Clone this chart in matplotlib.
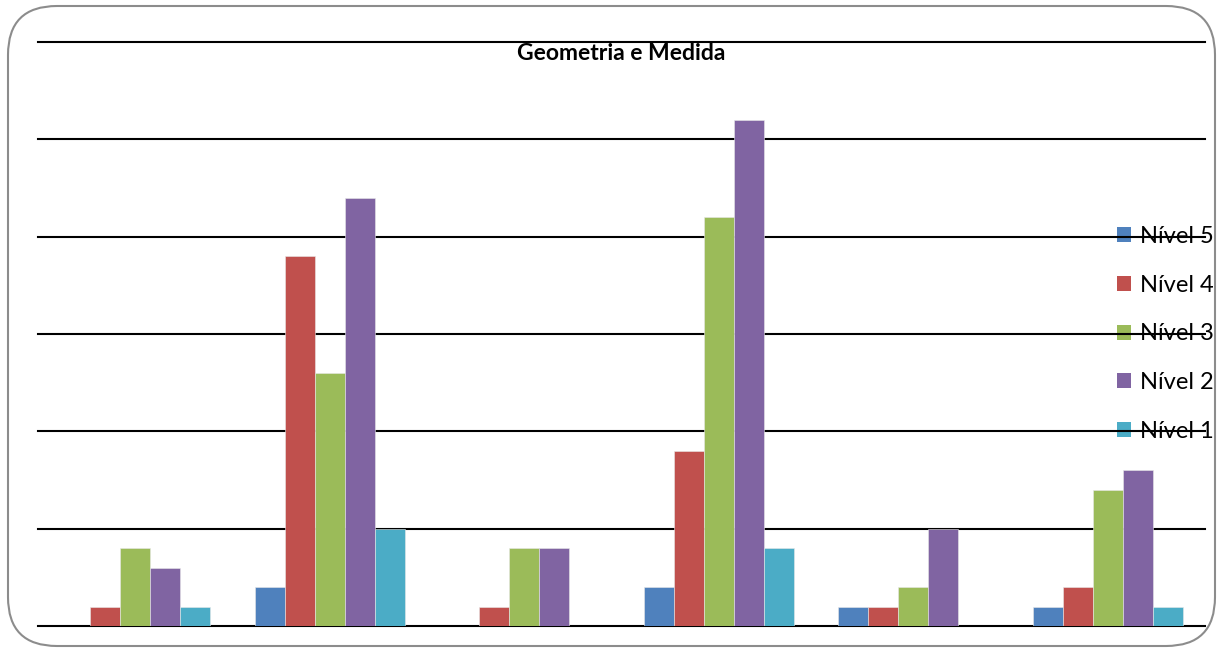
import matplotlib
matplotlib.use("Agg")
import matplotlib.pyplot as plt
from matplotlib.patches import FancyBboxPatch, Patch
import numpy as np

plt.rcParams["font.family"] = ["Lato", "DejaVu Sans"]

# ---------------------------------------------------------------------------
# Data
# ---------------------------------------------------------------------------
groups = ["1", "2", "3", "4", "5", "6"]
series = ["Nível 5", "Nível 4", "Nível 3", "Nível 2", "Nível 1"]
nivel5 = [0, 2, 0, 2, 1, 1]
nivel4 = [1, 19, 1, 9, 1, 2]
nivel3 = [4, 13, 4, 21, 2, 7]
nivel2 = [3, 22, 4, 26, 5, 8]
nivel1 = [1, 5, 0, 4, 0, 1]
values = [nivel5, nivel4, nivel3, nivel2, nivel1]
colors = ["#4F81BD", "#C0504D", "#9BBB59", "#8064A2", "#4BACC6"]

fig = plt.figure(figsize=(12.23, 6.5), dpi=100)
fig.patch.set_facecolor("white")

# rounded chart-area border
border = FancyBboxPatch((8 / 1223, 4 / 650), 1207 / 1223, 640 / 650,
                       boxstyle="round,pad=0,rounding_size=0.04",
                       transform=fig.transFigure, facecolor="none",
                       edgecolor="#8c8c8c", linewidth=1.5, mutation_aspect=1223 / 650)
fig.add_artist(border)

ax = fig.add_axes([38 / 1223, 1 - 626 / 650, (1205 - 38) / 1223, (626 - 42) / 650])

x = np.arange(len(groups))
w = 0.154
for i, (vals, c, name) in enumerate(zip(values, colors, series)):
    ax.bar(x + (i - 2) * w, vals, w, color=c, edgecolor="#e8e8e8",
           linewidth=0.4, label=name, zorder=2)

ax.set_xlim(-0.5, len(groups) - 0.5)
ax.set_ylim(0, 30)
ax.set_yticks(np.arange(0, 31, 5))
ax.yaxis.grid(True, color="black", linewidth=1.5)
for gl in ax.get_ygridlines():
    gl.set_clip_on(False)
ax.set_axisbelow(True)
ax.set_xticks([])
ax.tick_params(left=False, labelleft=False)
for s in ax.spines.values():
    s.set_visible(False)

ax.text(0.5, 0.998, "Geometria e Medida", transform=ax.transAxes,
        ha="center", va="top", fontsize=16.5, fontweight="bold")

handles = [Patch(facecolor=c, edgecolor="none") for c in colors]
leg = ax.legend(handles, series, loc="center left",
                bbox_to_anchor=(1105 / 1223, 1 - 334 / 650),
                bbox_transform=fig.transFigure, frameon=False,
                fontsize=17, handlelength=0.6, handleheight=0.6,
                handletextpad=0.4, labelspacing=1.17, borderpad=0)
leg.set_zorder(0.4)

fig.savefig("out.png", dpi=100, facecolor="white")
